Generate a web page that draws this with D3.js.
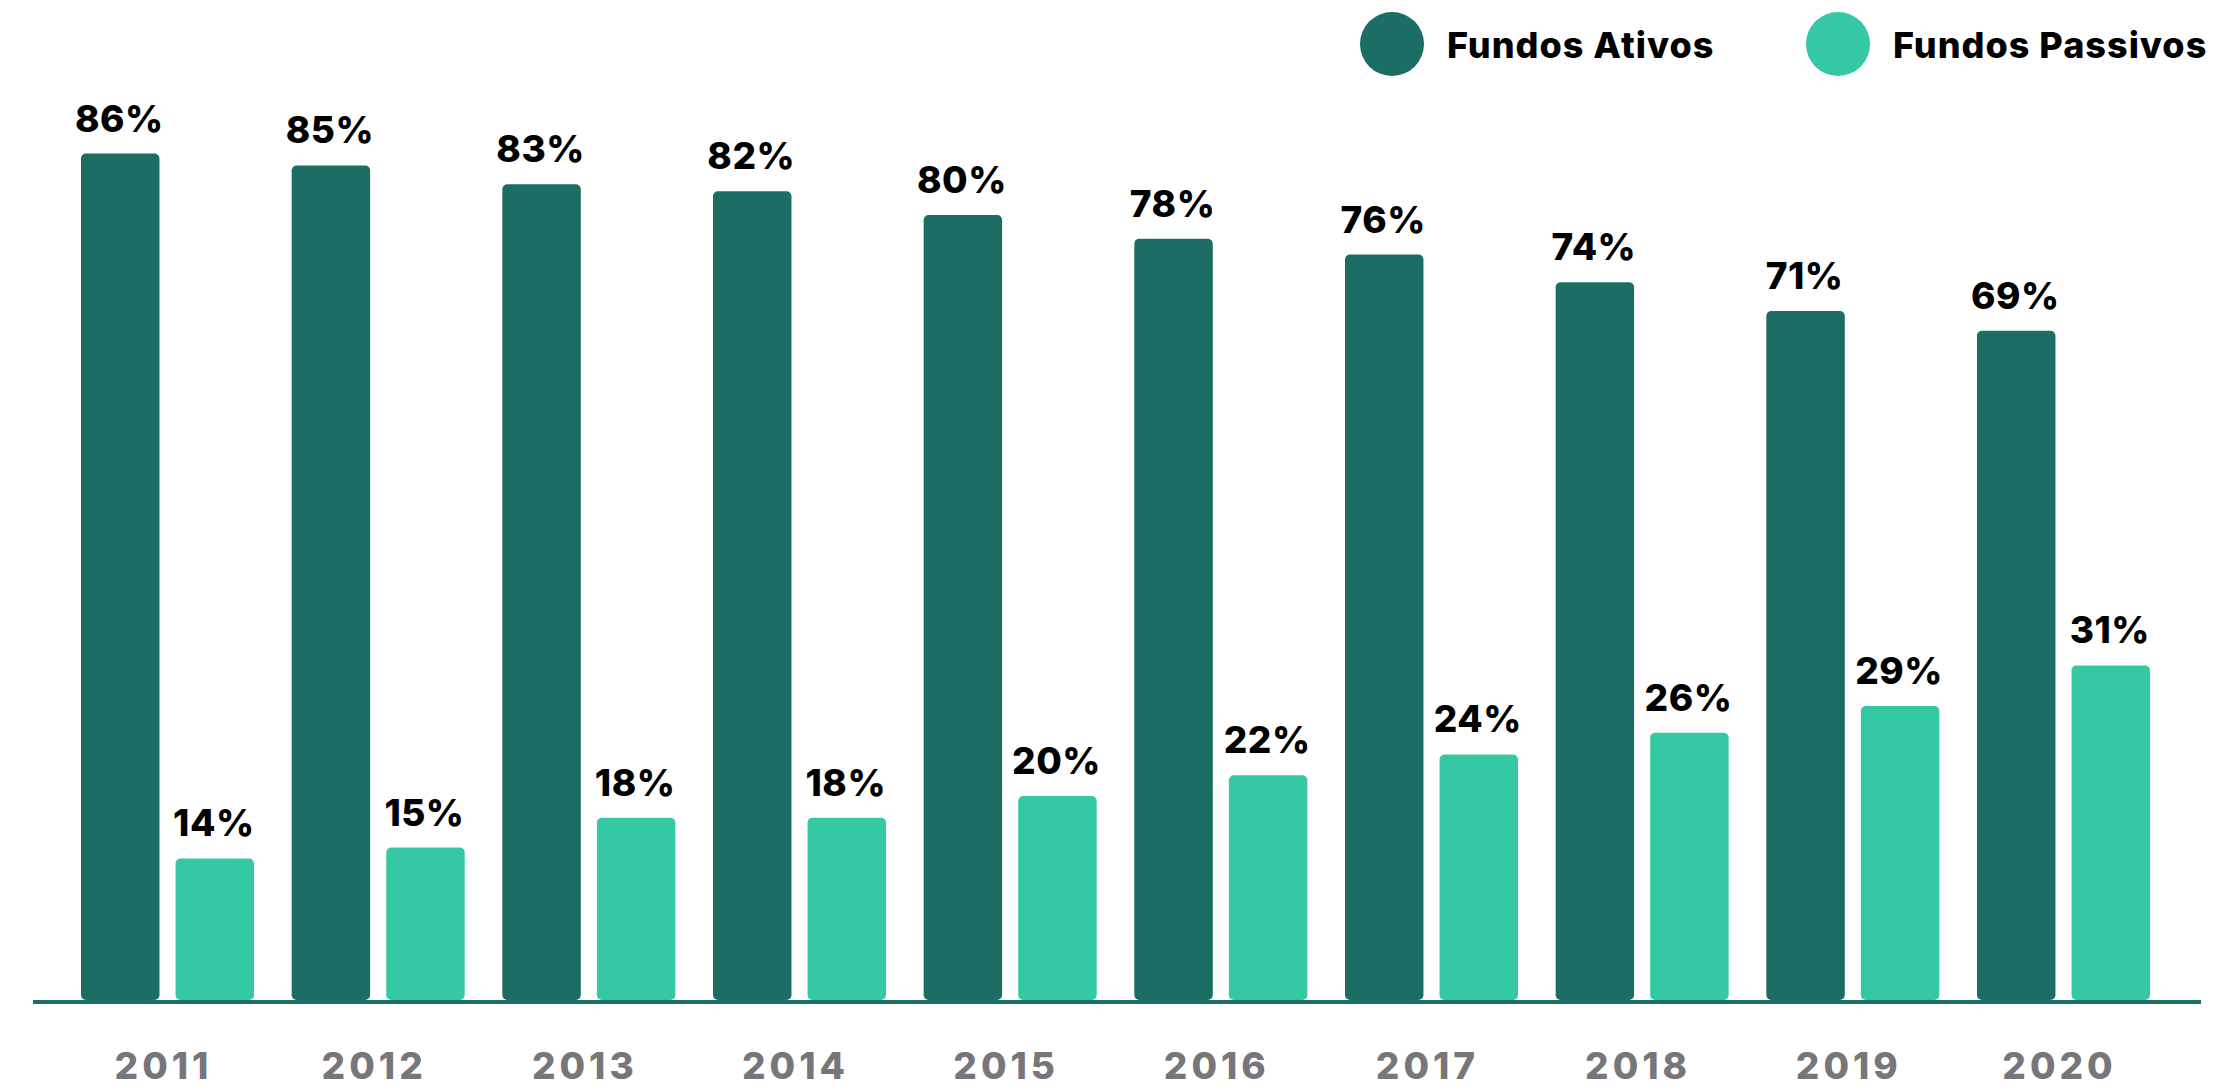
<!DOCTYPE html>
<html>
<head>
<meta charset="utf-8">
<script src="https://cdn.jsdelivr.net/npm/d3@7"></script>
<style>
	body { margin: 0; background: #fff; }
	text { font-family: Inter, Lato, sans-serif; font-weight: 800; }
</style>
</head>
<body>
<script>

	// Width and height of chart
	var width = 2234;
	var height = 1087;

	var darkColor = '#1c6e64'
	var lightColor = '#34c9a4'

	// data (bar heights in %, and the printed labels)
	var years = ["2011", "2012", "2013", "2014", "2015", "2016", "2017", "2018", "2019", "2020"];
	var series = ["Fundos Ativos", "Fundos Passivos"];
	var ativos = [85.5, 84.3, 82.4, 81.7, 79.3, 76.9, 75.3, 72.5, 69.6, 67.6];
	var passivos = [14.3, 15.4, 18.4, 18.4, 20.6, 22.7, 24.8, 27.0, 29.7, 33.8];
	var ativosLabels = ["86%", "85%", "83%", "82%", "80%", "78%", "76%", "74%", "71%", "69%"];
	var passivosLabels = ["14%", "15%", "18%", "18%", "20%", "22%", "24%", "26%", "29%", "31%"];

	var colors = d3.scaleOrdinal().domain(series).range([darkColor, lightColor]);

	var svg = d3.select("body")
		.append("svg")
		.attr("width", width)
		.attr("height", height);

	// scales
	var x0 = d3.scaleBand()
		.domain(years)
		.range([81, 2150])
		.paddingInner(0.1786)
		.paddingOuter(0);

	var x1 = d3.scaleBand()
		.domain(series)
		.range([0, x0.bandwidth()])
		.paddingInner(0.17)
		.paddingOuter(0);

	var y = d3.scaleLinear()
		.domain([0, 100])
		.range([1000, 10]);

	// one row per bar
	var rows = [];
	for (var i = 0; i < years.length; i++) {
		rows.push({ year: years[i], key: series[0], value: ativos[i], label: ativosLabels[i] });
		rows.push({ year: years[i], key: series[1], value: passivos[i], label: passivosLabels[i] });
	}

	svg.selectAll("rect.bar")
		.data(rows)
		.enter()
		.append("rect")
		.attr("class", "bar")
		.attr("x", function(d) { return x0(d.year) + x1(d.key) })
		.attr("y", function(d) { return y(d.value) })
		.attr("width", x1.bandwidth())
		.attr("height", function(d) { return y(0) - y(d.value) })
		.attr("rx", 5)
		.style("fill", function(d) { return colors(d.key) });

	// value labels above bars
	svg.selectAll("text.value")
		.data(rows)
		.enter()
		.append("text")
		.attr("class", "value")
		.attr("x", function(d) { return x0(d.year) + x1(d.key) + x1.bandwidth() / 2 - 1 })
		.attr("y", function(d) { return y(d.value) - 22 })
		.attr("text-anchor", "middle")
		.style("font-size", "37px")
		.style("letter-spacing", "0.5px")
		.style("fill", "#000")
		.text(function(d) { return d.label });

	// baseline
	svg.append("rect")
		.attr("x", 33)
		.attr("y", y(0))
		.attr("width", 2201 - 33)
		.attr("height", 4)
		.style("fill", darkColor);

	// year labels
	svg.selectAll("text.year")
		.data(years)
		.enter()
		.append("text")
		.attr("class", "year")
		.attr("x", function(d) { return x0(d) + x0.bandwidth() / 2 - 4 })
		.attr("y", 1079)
		.attr("text-anchor", "middle")
		.style("font-size", "37px")
		.style("letter-spacing", "4px")
		.style("fill", "#77767b")
		.text(function(d) { return d });

	// legend
	var legendX = [1392, 1838];
	var legend = svg.selectAll("g.legend")
		.data(series)
		.enter()
		.append("g")
		.attr("class", "legend")
		.attr("transform", function(d, i) { return "translate(" + legendX[i] + ",44)" });

	legend.append("circle")
		.attr("r", 32)
		.style("fill", function(d) { return colors(d) });

	legend.append("text")
		.attr("x", 55)
		.attr("y", 14)
		.style("font-size", "36px")
		.style("letter-spacing", "1px")
		.style("fill", "#000")
		.text(function(d) { return d });

</script>
</body>
</html>
